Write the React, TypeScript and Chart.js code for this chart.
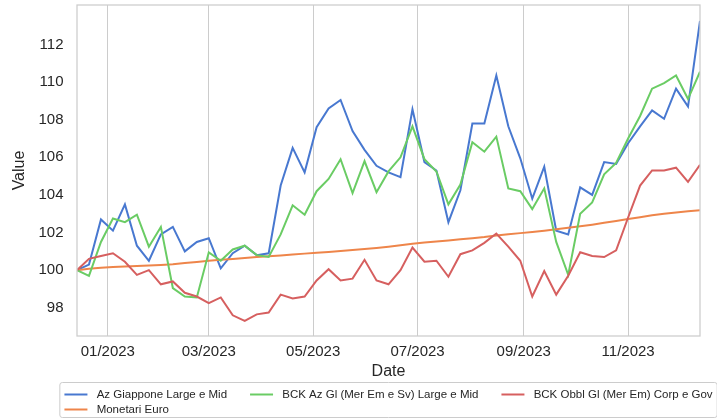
import { useEffect, useRef } from 'react';
import { Chart, registerables } from 'chart.js';

Chart.register(...registerables);

const FONT = '"Liberation Sans", Arial, Helvetica, sans-serif';

// Weekly observation dates
const dates: string[] = [
  '2022-12-14', '2022-12-21', '2022-12-28', '2023-01-04', '2023-01-11', '2023-01-18', '2023-01-25',
  '2023-02-01', '2023-02-08', '2023-02-15', '2023-02-22', '2023-03-01', '2023-03-08', '2023-03-15',
  '2023-03-22', '2023-03-29', '2023-04-05', '2023-04-12', '2023-04-19', '2023-04-26', '2023-05-03',
  '2023-05-10', '2023-05-17', '2023-05-24', '2023-05-31', '2023-06-07', '2023-06-14', '2023-06-21',
  '2023-06-28', '2023-07-05', '2023-07-12', '2023-07-19', '2023-07-26', '2023-08-02', '2023-08-09',
  '2023-08-16', '2023-08-23', '2023-08-30', '2023-09-06', '2023-09-13', '2023-09-20', '2023-09-27',
  '2023-10-04', '2023-10-11', '2023-10-18', '2023-10-25', '2023-11-01', '2023-11-08', '2023-11-15',
  '2023-11-22', '2023-11-29', '2023-12-06', '2023-12-13',
];

const azGiappone: number[] = [
  100.0, 100.3, 102.7, 102.1, 103.5, 101.3, 100.5, 101.9, 102.3, 101.0,
  101.5, 101.7, 100.1, 100.9, 101.3, 100.8, 100.9, 104.5, 106.5, 105.2,
  107.6, 108.6, 109.05, 107.4, 106.4, 105.55, 105.2, 104.95, 108.55, 105.75,
  105.3, 102.55, 104.25, 107.8, 107.8, 110.35, 107.65, 105.95, 103.8, 105.5,
  102.1, 101.9, 104.4, 104.0, 105.75, 105.65, 106.75, 107.65, 108.5, 108.05,
  109.65, 108.7, 113.25,
];

const monetariEuro: number[] = [
  100.0, 100.08, 100.13, 100.17, 100.2, 100.22, 100.25, 100.28, 100.32, 100.38,
  100.44, 100.5, 100.55, 100.6, 100.65, 100.7, 100.74, 100.78, 100.83, 100.88,
  100.93, 100.97, 101.02, 101.07, 101.12, 101.18, 101.25, 101.32, 101.4, 101.47,
  101.53, 101.58, 101.64, 101.7, 101.76, 101.84, 101.91, 101.97, 102.03, 102.1,
  102.17, 102.25, 102.33, 102.42, 102.52, 102.62, 102.72, 102.82, 102.92, 103.0,
  103.07, 103.13, 103.18,
];

const bckAzGl: number[] = [
  100.0, 99.7, 101.5, 102.75, 102.55, 102.95, 101.25, 102.3, 99.05, 98.6,
  98.55, 100.95, 100.5, 101.1, 101.3, 100.8, 100.7, 101.9, 103.45, 102.95,
  104.2, 104.85, 105.9, 104.1, 105.8, 104.15, 105.25, 106.0, 107.65, 105.9,
  105.25, 103.5, 104.55, 106.8, 106.3, 107.1, 104.35, 104.2, 103.25, 104.35,
  101.5, 99.75, 103.0, 103.6, 105.1, 105.7, 107.0, 108.2, 109.65, 109.95,
  110.35, 109.1, 110.55,
];

const bckObbl: number[] = [
  100.0, 100.6, 100.75, 100.9, 100.45, 99.75, 100.0, 99.25, 99.4, 98.8,
  98.6, 98.25, 98.55, 97.6, 97.3, 97.65, 97.75, 98.7, 98.5, 98.6,
  99.45, 100.05, 99.45, 99.55, 100.55, 99.45, 99.25, 100.0, 101.2, 100.45,
  100.5, 99.65, 100.85, 101.05, 101.45, 101.95, 101.25, 100.5, 98.6, 99.95,
  98.7, 99.7, 100.95, 100.75, 100.7, 101.05, 102.8, 104.5, 105.3, 105.3,
  105.45, 104.7, 105.6,
];

const seriesLabels: string[] = [
  'Az Giappone Large e Mid',
  'Monetari Euro',
  'BCK Az Gl (Mer Em e Sv) Large e Mid',
  'BCK Obbl Gl (Mer Em) Corp e Gov',
];

const xTickDates: string[] = ['2023-01-01', '2023-03-01', '2023-05-01', '2023-07-01', '2023-09-01', '2023-11-01'];
const yTickValues: number[] = [98, 100, 102, 104, 106, 108, 110, 112];

const DAY = 86400000;
const ORIGIN = Date.UTC(2023, 0, 1);
const toDay = (s: string) => {
  const [y, m, d] = s.split('-').map(Number);
  return Math.round((Date.UTC(y, m - 1, d) - ORIGIN) / DAY);
};
const fmtDay = (v: number) => {
  const dt = new Date(ORIGIN + v * DAY);
  const mm = String(dt.getUTCMonth() + 1).padStart(2, '0');
  return `${mm}/${dt.getUTCFullYear()}`;
};

const framePlugin = {
  id: 'mplFrame',
  afterDatasetsDraw(chart: any) {
    const { ctx, chartArea } = chart;
    ctx.save();
    ctx.strokeStyle = '#cccccc';
    ctx.lineWidth = 1.25;
    ctx.strokeRect(chartArea.left, chartArea.top, chartArea.right - chartArea.left, chartArea.bottom - chartArea.top);
    ctx.restore();
  },
};

const legendPlugin = {
  id: 'mplLegend',
  afterDraw(chart: any) {
    const { ctx, chartArea } = chart;
    const fs = 11.5;
    ctx.save();
    ctx.font = `${fs}px ${FONT}`;
    const ds = chart.data.datasets;
    const n = ds.length;
    const ncol = 3;
    const nrow = Math.ceil(n / ncol);
    const nLarge = n % ncol === 0 ? ncol : n % ncol;
    const cols: number[][] = [];
    let k = 0;
    for (let c = 0; c < ncol && k < n; c++) {
      const size = c < nLarge ? nrow : nrow - 1;
      const col: number[] = [];
      for (let r = 0; r < size && k < n; r++) col.push(k++);
      cols.push(col);
    }
    const handle = 2 * fs;
    const tpad = 0.8 * fs;
    const colsp = 2 * fs;
    const bpad = 0.4 * fs;
    const colW = cols.map((col) => handle + tpad + Math.max(...col.map((i) => ctx.measureText(ds[i].label).width)));
    const innerW = colW.reduce((a, b) => a + b, 0) + colsp * (cols.length - 1);
    const boxW = innerW + 2 * bpad;
    const cx = (chartArea.left + chartArea.right) / 2;
    const left = cx - boxW / 2;
    const top = chart.height - 36.5;
    const boxH = 35;
    const row0 = top + 12;
    const pitch = 15;

    ctx.beginPath();
    if ((ctx as any).roundRect) (ctx as any).roundRect(left, top, boxW, boxH, 2.5);
    else ctx.rect(left, top, boxW, boxH);
    ctx.fillStyle = 'rgba(255,255,255,0.8)';
    ctx.fill();
    ctx.strokeStyle = '#cccccc';
    ctx.lineWidth = 1;
    ctx.stroke();

    let x0 = left + bpad;
    cols.forEach((col, c) => {
      col.forEach((i, r) => {
        const y = row0 + r * pitch;
        ctx.beginPath();
        ctx.strokeStyle = ds[i].borderColor;
        ctx.lineWidth = 2;
        ctx.moveTo(x0, y);
        ctx.lineTo(x0 + handle, y);
        ctx.stroke();
        ctx.fillStyle = '#262626';
        ctx.textBaseline = 'middle';
        ctx.textAlign = 'left';
        ctx.fillText(ds[i].label, x0 + handle + tpad, y);
      });
      x0 += colW[c] + colsp;
    });
    ctx.restore();
  },
};

export default function App() {
  const ref = useRef<HTMLCanvasElement | null>(null);

  useEffect(() => {
    if (!ref.current) return;
    const xs = dates.map(toDay);
    const series = [azGiappone, monetariEuro, bckAzGl, bckObbl];
    const colors = ['#4878d0', '#ee854a', '#6acc64', '#d65f5f'];
    const orders = [4, 3, 2, 1];
    const chart = new Chart(ref.current, {
      type: 'line',
      data: {
        datasets: series.map((vals, si) => ({
          label: seriesLabels[si],
          data: vals.map((v, i) => ({ x: xs[i], y: v })),
          borderColor: colors[si],
          backgroundColor: colors[si],
          borderWidth: 2,
          pointRadius: 0,
          tension: 0,
          fill: false,
          order: orders[si],
        })),
      },
      options: {
        animation: false,
        responsive: true,
        maintainAspectRatio: false,
        layout: { padding: { left: 0, top: 5, right: 17, bottom: 0 } },
        plugins: {
          legend: { display: false },
          tooltip: { enabled: false },
        },
        scales: {
          x: {
            type: 'linear',
            min: xs[0],
            max: xs[xs.length - 1],
            grid: { display: true, color: '#cccccc', lineWidth: 1, drawTicks: false },
            border: { display: false },
            ticks: {
              autoSkip: false,
              maxRotation: 0,
              padding: 7,
              color: '#262626',
              font: { family: FONT, size: 15 },
              callback: (v: any) => fmtDay(Number(v)),
            },
            title: {
              display: true,
              text: 'Date',
              color: '#262626',
              font: { family: FONT, size: 16 },
              padding: { top: 0, bottom: 37.4 },
            },
            afterBuildTicks: (scale: any) => {
              scale.ticks = xTickDates.map((d) => ({ value: toDay(d) }));
            },
            afterFit: (scale: any) => {
              scale.height = 83;
              scale.paddingLeft = 0;
              scale.paddingRight = 0;
              scale.paddingTop = 0;
              scale.paddingBottom = 0;
            },
          },
          y: {
            type: 'linear',
            min: 96.5,
            max: 114.1,
            grid: { display: false, drawTicks: false },
            border: { display: false },
            ticks: {
              padding: 13.5,
              color: '#262626',
              font: { family: FONT, size: 15 },
            },
            title: {
              display: true,
              text: 'Value',
              color: '#262626',
              font: { family: FONT, size: 16 },
              padding: { top: 10, bottom: 0 },
            },
            afterBuildTicks: (scale: any) => {
              scale.ticks = yTickValues.map((v) => ({ value: v }));
            },
            afterFit: (scale: any) => {
              scale.width = 77;
              scale.paddingLeft = 0;
              scale.paddingRight = 0;
              scale.paddingTop = 0;
              scale.paddingBottom = 0;
            },
          },
        },
      },
      plugins: [framePlugin, legendPlugin],
    });
    return () => chart.destroy();
  }, []);

  return (
    <div style={{ position: 'fixed', left: 0, top: 0, width: 717, height: 419, background: '#ffffff' }}>
      <canvas ref={ref} />
    </div>
  );
}
